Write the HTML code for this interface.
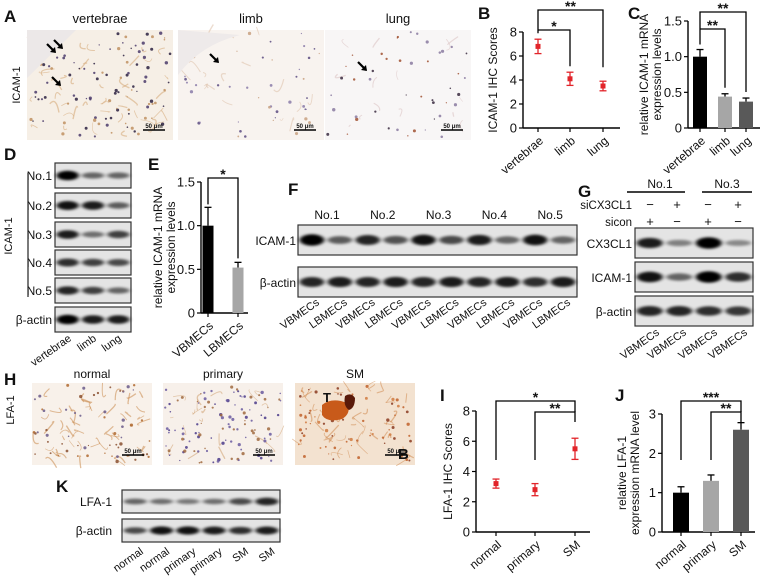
<!DOCTYPE html>
<html><head><meta charset="utf-8">
<style>
html,body{margin:0;padding:0;background:#fff;}
svg{display:block;font-family:"Liberation Sans",Arial,sans-serif;}
</style></head>
<body>
<svg id="fig" width="764" height="579" viewBox="0 0 764 579" xmlns="http://www.w3.org/2000/svg">
<defs>
<filter id="blur1" x="-50%" y="-100%" width="200%" height="300%"><feGaussianBlur stdDeviation="2 1.3"/></filter>
<filter id="blur2"><feGaussianBlur stdDeviation="0.5"/></filter>
</defs>
<g id="root"></g>
</svg>
<script>
// ---- chart data ----
const bCats = ["vertebrae","limb","lung"];
const bVals = [6.8, 4.1, 3.5];
const bErr = [0.6, 0.55, 0.4];
const bTicks = [0,2,4,6,8];

const cCats = ["vertebrae","limb","lung"];
const cVals = [1.0, 0.44, 0.37];
const cErr = [0.1, 0.04, 0.05];
const cTicks = [0,0.5,1.0,1.5];
const cTickLabels = ["0","0.5","1.0","1.5"];

const eCats = ["VBMECs","LBMECs"];
const eVals = [1.0, 0.52];
const eErr = [0.21, 0.06];
const eTicks = [0,0.5,1.0,1.5];
const eTickLabels = ["0","0.5","1.0","1.5"];

const iCats = ["normal","primary","SM"];
const iVals = [3.2, 2.8, 5.5];
const iErr = [0.3, 0.4, 0.7];
const iTicks = [0,2,4,6,8];

const jCats = ["normal","primary","SM"];
const jVals = [1.0, 1.3, 2.6];
const jErr = [0.15, 0.15, 0.18];
const jTicks = [0,1,2,3];

const NS="http://www.w3.org/2000/svg";
const root=document.getElementById('root');
function mk(tag,attrs,parent,txt){const e=document.createElementNS(NS,tag);for(const k in attrs)e.setAttribute(k,attrs[k]);if(txt!==undefined)e.textContent=txt;(parent||root).appendChild(e);return e;}
function txt(x,y,s,size,anchor,parent,extra){const t=mk('text',Object.assign({x:x,y:y,'font-size':size,'text-anchor':anchor||'start',fill:'#111'},extra||{}),parent,s);return t;}

function letter(ch,x,y){const t=txt(x,y,ch,17,'start',null,{'font-weight':'bold'});

}
letter('A',4,22);letter('B',478,19);letter('C',628,19);letter('D',4,160);letter('E',148,170);
letter('F',288,195);letter('G',578,197);letter('H',4,385);letter('I',440,401);letter('J',615,401);letter('K',56,492);

let seed=7;function rnd(){seed=(seed*16807)%2147483647;return seed/2147483647;}

function micro(x,y,w,h,name,bg,dotCols,n,fib,fcol){
  const g=mk('g',{});
  
  
  mk('rect',{x:x,y:y,width:w,height:h,fill:bg},g);
  for(let i=0;i<fib;i++){const px=x+5+rnd()*(w-10),py=y+5+rnd()*(h-10);
    mk('path',{d:`M${px} ${py} q ${rnd()*16-8} ${rnd()*16-8} ${rnd()*24-12} ${rnd()*24-12}`,stroke:fcol,"stroke-width":0.6+rnd()*0.8,fill:'none',opacity:0.55},g);}
  for(let i=0;i<n;i++){const c=dotCols[Math.floor(rnd()*dotCols.length)];
    mk('circle',{cx:x+2+rnd()*(w-4),cy:y+2+rnd()*(h-4),r:0.6+rnd()*1.1,fill:c,opacity:0.85},g);}
  mk('line',{x1:x+w-30,x2:x+w-8,y1:y+h-10,y2:y+h-10,stroke:'#000','stroke-width':1.5},g);
  txt(x+w-19,y+h-12,'50 μm',6,'middle',g,{'font-weight':'bold'});
  return g;
}
// A
[['vertebrae',27,'#f6efe6',['#2a2040','#4a3a6a','#c09060'],110,45,'#d4a672'],
 ['limb',178,'#f8f3ef',['#5a4a80','#8a7aa8','#c8a080'],45,18,'#dcc0a8'],
 ['lung',325,'#f8f6f6',['#3a2a40','#8a7aa0','#a05030'],45,14,'#d8c0c0']].forEach((d,i)=>{
  micro(d[1],30,146,110,'micrograph-a-'+d[0],d[2],d[3],d[4],d[5],d[6]);
  const t=txt(d[1]+73,23,d[0],13,'middle');
  
  
});
mk('path',{d:'M27 78 L76 30 L27 30 Z',fill:'#ece8e8'});
mk('path',{d:'M178 75 Q200 45 240 35 L178 30 Z',fill:'#eeeaea'});
[[55,52],[62,48],[60,85],[218,62],[366,70]].forEach(a=>{mk('path',{d:`M${a[0]-8} ${a[1]-8} L${a[0]} ${a[1]}`,stroke:'#000','stroke-width':2.2});mk('path',{d:`M${a[0]+1} ${a[1]+1} l-6 -1 l5 -5 z`,fill:'#000'});});
txt(20,85,'ICAM-1',11,'middle',null,{transform:'rotate(-90 20 85)'});
// H
[['normal',32,'#f8f1ea',['#b06a30','#8a5030','#6a5a8a'],60,50,'#c8884a'],
 ['primary',163,'#f7f0ea',['#4a3a8a','#6a5aa0','#a06a40'],110,20,'#d0a070'],
 ['SM',295,'#f3e2d0',['#c0602a','#d07a40','#8a3a20'],70,45,'#d08a50']].forEach(d=>{
  micro(d[1],383,120,82,'micrograph-h-'+d[0],d[2],d[3],d[4],d[5],d[6]);
  const t=txt(d[1]+60,378,d[0],12,'middle');
  
  
});
mk('path',{d:'M322 405 q10 -8 25 -2 q5 10 -5 16 q-15 4 -20 -4 z',fill:'#c85a1a'});
mk('path',{d:'M345 396 q6 -4 10 2 q0 10 -6 12 q-6 -4 -4 -14z',fill:'#5a1a0a'});
txt(323,402,'T',13,'start',null,{'font-weight':'bold'});
txt(398,459,'B',15,'start',null,{'font-weight':'bold'});
txt(14,410,'LFA-1',11,'middle',null,{transform:'rotate(-90 14 410)'});

function blot(x,y,w,h,name,ints){
  const g=mk('g',{});
  
  
  mk('rect',{x:x,y:y,width:w,height:h,fill:'#e4e4e4',stroke:'#333','stroke-width':1.2},g);
  const n=ints.length,lw=w/n;
  ints.forEach((v,i)=>{mk('ellipse',{cx:x+lw*(i+0.5),cy:y+h/2,rx:lw*0.44,ry:h*(0.07+0.12*v),fill:'#000',opacity:0.2+0.8*v,filter:'url(#blur1)'},g);});
  return g;
}
function rlabel(x,y,s,size,name){const t=txt(x,y,s,size||12,'end');return t;}
// D
const dRows=[['No.1',163,[1,.45,.45]],['No.2',193,[.9,.85,.5]],['No.3',222,[.85,.4,.65]],['No.4',250,[.75,.65,.6]],['No.5',278,[.8,.65,.45]],['β-actin',307,[1,.85,.85]]];
dRows.forEach(r=>{blot(55,r[1],76,25,'blot-d-'+r[0].toLowerCase().replace('.',''),r[2]);rlabel(52,r[1]+17,r[0],12,'blot-label-d');});
mk('line',{x1:28,x2:28,y1:173,y2:297,stroke:'#222','stroke-width':1.2});
txt(12,236,'ICAM-1',11,'middle',null,{transform:'rotate(-90 12 236)'});
['vertebrae','limb','lung'].forEach((s,i)=>{const x=72+i*25;txt(x,340,s,11,'end',null,{transform:`rotate(-35 ${x} 340)`});});
// F
blot(298,225,279,30,'blot-f-icam1',[1,.5,.8,.55,.9,.6,.85,.45,.9,.45]);
blot(298,267,279,30,'blot-f-bactin',[.8,.85,.8,.85,.8,.85,.8,.85,.75,.85]);
rlabel(296,245,'ICAM-1',12,'blot-label-f');rlabel(296,287,'β-actin',12,'blot-label-f');
['No.1','No.2','No.3','No.4','No.5'].forEach((s,i)=>{const t=txt(327+i*55.8,219,s,12,'middle');});
for(let i=0;i<10;i++){const x=320+i*27.9;txt(x,304,i%2?'LBMECs':'VBMECs',11,'end',null,{transform:`rotate(-35 ${x} 304)`});}
// G
blot(635,228,118,30,'blot-g-cx3cl1',[.85,.3,1,.25]);
blot(635,262,118,30,'blot-g-icam1',[.9,.45,1,.75]);
blot(635,296,118,30,'blot-g-bactin',[.8,.8,.75,.7]);
rlabel(632,248,'CX3CL1',12,'blot-label-g');rlabel(632,282,'ICAM-1',12,'blot-label-g');rlabel(632,316,'β-actin',12,'blot-label-g');
txt(660,188,'No.1',12,'middle');txt(727,188,'No.3',12,'middle');
mk('line',{x1:627,x2:685,y1:192,y2:192,stroke:'#000','stroke-width':1.5});
mk('line',{x1:702,x2:752,y1:192,y2:192,stroke:'#000','stroke-width':1.5});
rlabel(632,209,'siCX3CL1',11.5,'row-label-sicx3cl1');rlabel(632,226,'sicon',11.5,'row-label-sicon');
const gx=[650,677,708,738];
['−','+','−','+'].forEach((s,i)=>txt(gx[i],209,s,13,'middle'));
['+','−','+','−'].forEach((s,i)=>txt(gx[i],226,s,13,'middle'));
gx.forEach(x=>{const xx=x+10;txt(xx,334,'VBMECs',11,'end',null,{transform:`rotate(-35 ${xx} 334)`});});
// K
blot(122,490,158,23,'blot-k-lfa1',[.45,.4,.35,.4,.6,.8]);
blot(122,519,158,23,'blot-k-bactin',[.6,.9,.9,.85,.75,.85]);
rlabel(112,506,'LFA-1',12,'blot-label-k');rlabel(112,535,'β-actin',12,'blot-label-k');
['normal','normal','primary','primary','SM','SM'].forEach((s,i)=>{const x=144+i*26.3;txt(x,553,s,11,'end',null,{transform:`rotate(-35 ${x} 553)`});});

function axes(opt){
  const g=mk('g',{});
  
  
  const y=v=>opt.y0-(v-opt.ticks[0])/(opt.ticks[opt.ticks.length-1]-opt.ticks[0])*(opt.y0-opt.y1);
  mk('line',{x1:opt.x0,x2:opt.x0,y1:opt.y0,y2:opt.y1,stroke:'#000','stroke-width':1.4},g);
  mk('line',{x1:opt.x0,x2:opt.xe,y1:opt.y0,y2:opt.y0,stroke:'#000','stroke-width':1.4},g);
  opt.ticks.forEach((t,i)=>{mk('line',{x1:opt.x0-4,x2:opt.x0,y1:y(t),y2:y(t),stroke:'#000','stroke-width':1.2},g);
    txt(opt.x0-6,y(t)+4.5,opt.tickLabels?opt.tickLabels[i]:String(t),13,'end',g);});
  opt.xs.forEach((x,i)=>{mk('line',{x1:x,x2:x,y1:opt.y0,y2:opt.y0+4,stroke:'#000','stroke-width':1.2},g);
    const lx=x+6,ly=opt.y0+14;txt(lx,ly,opt.cats[i],12,'end',g,{transform:`rotate(-40 ${lx} ${ly})`});});
  const yl=txt(opt.ylx,(opt.y0+opt.y1)/2,'',12,'middle',g,{transform:`rotate(-90 ${opt.ylx} ${(opt.y0+opt.y1)/2})`});
  opt.ylab.forEach((s,i)=>{mk('tspan',{x:opt.ylx,dy:i?13:0},yl,s);});
  return {g,y};
}
function bracket(g,xa,xb,yt,ya,yb,star){
  mk('path',{d:`M${xa} ${ya} V${yt} H${xb} V${yb}`,fill:'none',stroke:'#000','stroke-width':1.3},g);
  txt((xa+xb)/2,yt+1,star,14,'middle',g,{'font-weight':'bold'});
}
function dots(opt,vals,errs){const a=axes(opt);
  vals.forEach((v,i)=>{const x=opt.xs[i];
    mk('line',{x1:x,x2:x,y1:a.y(v-errs[i]),y2:a.y(v+errs[i]),stroke:'#e2242a','stroke-width':1.3},a.g);
    [v-errs[i],v+errs[i]].forEach(w=>mk('line',{x1:x-3.5,x2:x+3.5,y1:a.y(w),y2:a.y(w),stroke:'#e2242a','stroke-width':1.3},a.g));
    const c=mk('rect',{x:x-2.5,y:a.y(v)-2.5,width:5,height:5,fill:'#e2242a'},a.g);
    
    
  });return a;}
function bars(opt,vals,errs,cols,bw){const a=axes(opt);
  vals.forEach((v,i)=>{const x=opt.xs[i];
    mk('line',{x1:x,x2:x,y1:a.y(v),y2:a.y(v+errs[i]),stroke:'#000','stroke-width':1.3},a.g);
    mk('line',{x1:x-3.5,x2:x+3.5,y1:a.y(v+errs[i]),y2:a.y(v+errs[i]),stroke:'#000','stroke-width':1.3},a.g);
    const r=mk('rect',{x:x-bw/2,y:a.y(v),width:bw,height:opt.y0-a.y(v),fill:cols[i]},a.g);
    
    
  });return a;}

const B=dots({name:'chart-b-icam1-ihc',x0:523,xe:620,y0:128,y1:32,ticks:bTicks,xs:[538,570,603],cats:bCats,ylx:497,ylab:['ICAM-1 IHC Scores']},bVals,bErr);
bracket(B.g,538,603,10,B.y(bVals[0]+bErr[0])-6,B.y(bVals[2]+bErr[2])-14,'**');
bracket(B.g,538,570,30,30,B.y(bVals[1]+bErr[1])-6,'*');
const C=bars({name:'chart-c-icam1-mrna',x0:688,xe:760,y0:128,y1:21,ticks:cTicks,tickLabels:cTickLabels,xs:[700,725,746],cats:cCats,ylx:648,ylab:['relative ICAM-1 mRNA','expression levels']},cVals,cErr,['#000','#a6a6a6','#595959'],14);
bracket(C.g,700,746,12,C.y(cVals[0]+cErr[0])-5,C.y(cVals[2]+cErr[2])-6,'**');
bracket(C.g,700,725,29,29,C.y(cVals[1]+cErr[1])-6,'**');
const E=bars({name:'chart-e-icam1-mrna',x0:201,xe:248,y0:313,y1:182,ticks:eTicks,tickLabels:eTickLabels,xs:[208,238],cats:eCats,ylx:162,ylab:['relative ICAM-1 mRNA','expression levels']},eVals,eErr,['#000','#a6a6a6'],11);
bracket(E.g,208,238,178,E.y(eVals[0]+eErr[0])-3,E.y(eVals[1]+eErr[1])-4,'*');
const I=dots({name:'chart-i-lfa1-ihc',x0:476,xe:590,y0:532,y1:411,ticks:iTicks,xs:[496,535,575],cats:iCats,ylx:452,ylab:['LFA-1 IHC Scores']},iVals,iErr);
bracket(I.g,496,575,401,460,412,'*');
bracket(I.g,535,575,412,460,422,'**');
const J=bars({name:'chart-j-lfa1-mrna',x0:662,xe:755,y0:532,y1:414,ticks:jTicks,xs:[681,711,741],cats:jCats,ylx:626,ylab:['relative  LFA-1','expression mRNA level']},jVals,jErr,['#000','#a6a6a6','#595959'],16);
bracket(J.g,681,741,401,460,412,'***');
bracket(J.g,711,741,412,460,422,'**');
</script>
</body></html>
